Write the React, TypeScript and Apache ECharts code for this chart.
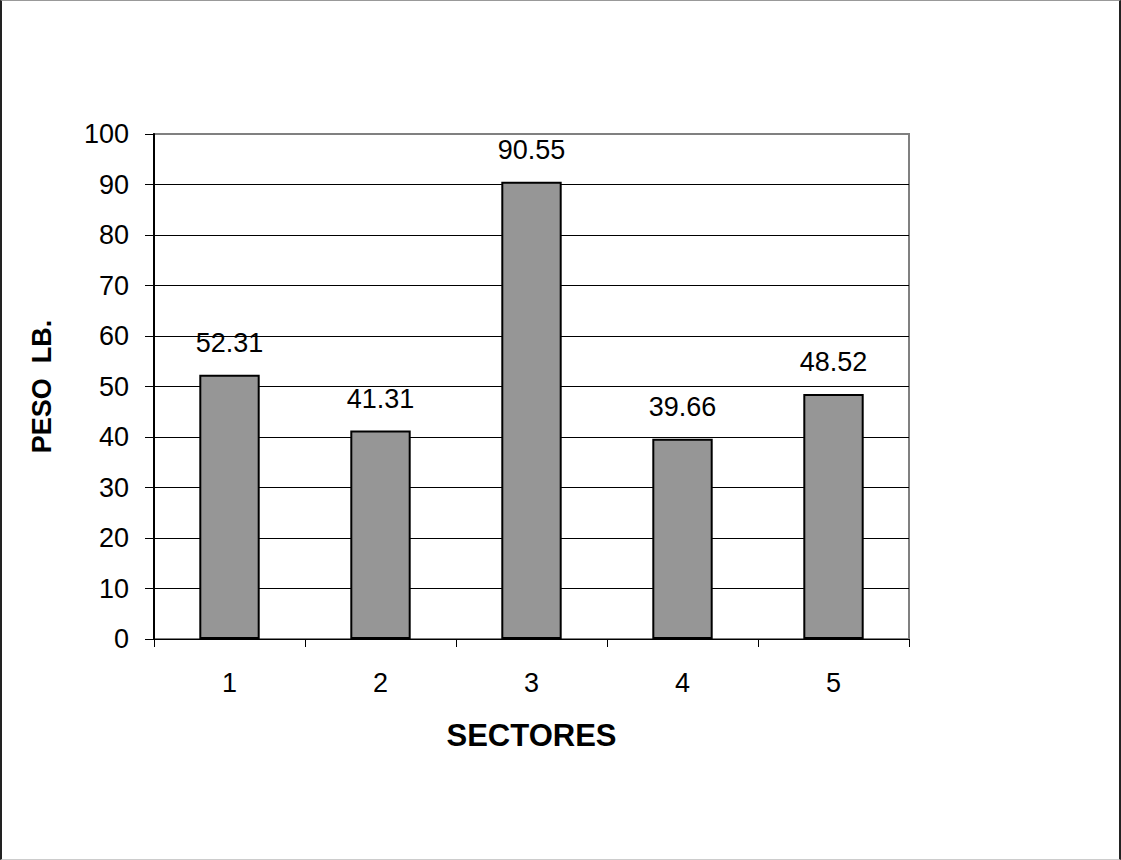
import React, { useEffect, useRef } from "react";
import * as echarts from "echarts";

const categories = ["1", "2", "3", "4", "5"];
const values = [52.31, 41.31, 90.55, 39.66, 48.52];
const yMin = 0;
const yMax = 100;
const yInterval = 10;

export default function App() {
  const ref = useRef<HTMLDivElement>(null);
  useEffect(() => {
    document.body.style.margin = "0";
    const chart = echarts.init(ref.current!, null, { renderer: "svg" });
    const font = "Liberation Sans, Arial, sans-serif";
    const splitColors = Array.from({ length: 11 }, (_, i) => (i === 10 ? "#808080" : "#000000"));
    chart.setOption({
      animation: false,
      backgroundColor: "#ffffff",
      textStyle: { fontFamily: font },
      grid: {
        left: 154,
        right: 212,
        top: 134,
        bottom: 221,
        show: true,
        borderColor: "#808080",
        borderWidth: 2,
        backgroundColor: "#ffffff",
      },
      xAxis: {
        type: "category",
        data: categories,
        boundaryGap: true,
        name: "SECTORES",
        nameLocation: "middle",
        nameGap: 81,
        nameTextStyle: { fontSize: 31, fontWeight: "bold", color: "#000", fontFamily: font },
        axisLine: { show: true, lineStyle: { color: "#000", width: 1 } },
        axisTick: { show: true, length: 8, alignWithLabel: false, lineStyle: { color: "#000" } },
        axisLabel: { fontSize: 27, color: "#000", margin: 30, fontFamily: font },
        splitLine: { show: false },
      },
      yAxis: {
        type: "value",
        min: yMin,
        max: yMax,
        interval: yInterval,
        name: "PESO  LB.",
        nameLocation: "middle",
        nameGap: 99,
        nameTextStyle: { fontSize: 27, fontWeight: "bold", color: "#000", fontFamily: font },
        axisLine: { show: true, lineStyle: { color: "#000", width: 2 } },
        axisTick: { show: true, length: 9, lineStyle: { color: "#000" } },
        axisLabel: { fontSize: 27, color: "#000", margin: 25, fontFamily: font },
        splitLine: { show: true, lineStyle: { color: splitColors, width: 1 } },
      },
      series: [
        {
          type: "bar",
          data: values,
          barWidth: "40%",
          itemStyle: { color: "#969696", borderColor: "#000", borderWidth: 2 },
          label: {
            show: true,
            position: "top",
            distance: 18,
            fontSize: 27,
            color: "#000",
            fontFamily: font,
            formatter: (p: any) => p.value.toFixed(2),
          },
        },
      ],
    });
    return () => chart.dispose();
  }, []);
  return (
    <div style={{ position: "absolute", left: 0, top: 0, width: 1121, height: 860, background: "#fff" }}>
      <div ref={ref} style={{ position: "absolute", left: 0, top: 0, width: 1121, height: 860 }} />
      <div
        style={{
          position: "absolute",
          left: 0,
          top: 0,
          width: 1121,
          height: 860,
          boxSizing: "border-box",
          borderLeft: "2px solid #222",
          borderRight: "2px solid #222",
          borderTop: "1px solid #999",
          borderBottom: "1px solid #ccc",
          pointerEvents: "none",
        }}
      />
    </div>
  );
}
